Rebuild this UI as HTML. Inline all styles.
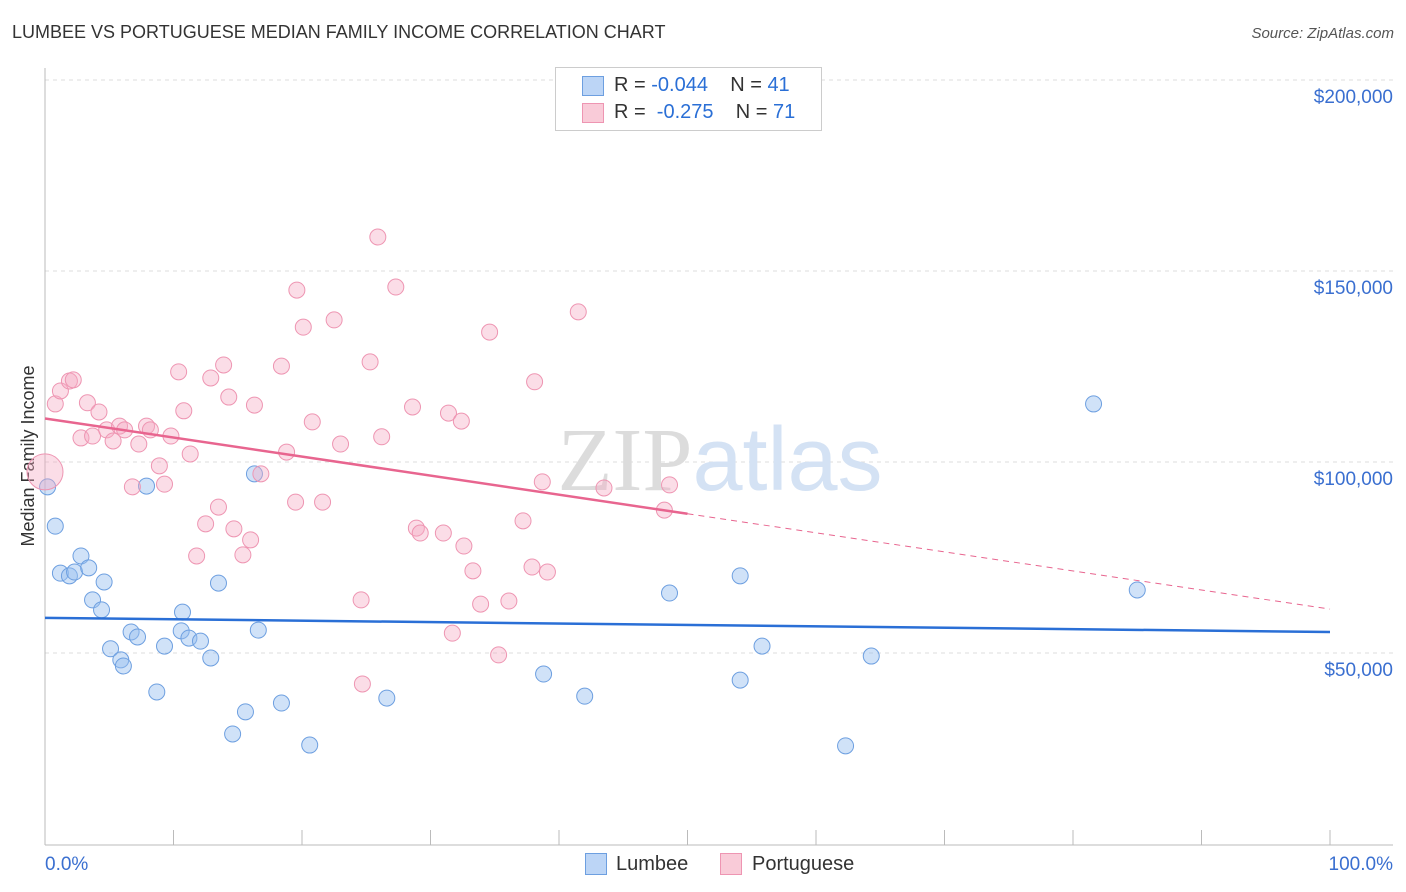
<!DOCTYPE html>
<html><head><meta charset="utf-8"><style>
body{margin:0;background:#fff;font-family:"Liberation Sans",sans-serif;}
#w{position:relative;width:1406px;height:892px;overflow:hidden}
.t{position:absolute;white-space:nowrap}
</style></head><body><div id="w">
<div class="t" style="left:12px;top:22px;font-size:18px;color:#333">LUMBEE VS PORTUGUESE MEDIAN FAMILY INCOME CORRELATION CHART</div>
<div class="t" style="right:12px;top:25px;font-size:15px;color:#555;font-style:italic">Source: ZipAtlas.com</div>
<svg id="s" width="1406" height="892" style="position:absolute;left:0;top:0"></svg>
</div>
<script>
const blueX=[0.2,0.8,1.2,1.9,2.3,2.8,3.4,3.7,4.4,4.6,5.1,5.9,6.1,6.7,7.2,7.9,8.7,9.3,10.6,10.7,11.2,12.1,12.9,13.5,14.6,15.6,16.3,16.6,18.4,20.6,26.6,38.8,42.0,48.6,54.1,54.1,55.8,62.3,64.3,81.6,85.0];
const blueY=[93.5,83.2,70.9,70.2,71.2,75.4,72.3,63.9,61.3,68.6,51.1,48.2,46.6,55.5,54.2,93.7,39.8,51.8,55.8,60.7,53.9,53.1,48.7,68.3,28.8,34.6,96.9,56.0,36.9,25.9,38.2,44.5,38.7,65.7,70.2,42.9,51.8,25.7,49.2,115.2,66.5];
const pinkX=[0,0.8,1.2,1.9,2.2,2.8,3.3,3.7,4.2,4.8,5.3,5.8,6.2,6.8,7.3,7.9,8.2,8.9,9.3,9.8,10.4,10.8,11.3,11.8,12.5,12.9,13.5,13.9,14.3,14.7,15.4,16.0,16.3,16.8,18.4,18.8,19.5,19.6,20.1,20.8,21.6,22.5,23.0,24.6,24.7,25.3,25.9,26.2,27.3,28.6,28.9,29.2,31.0,31.4,32.4,32.6,33.3,33.9,34.6,35.3,36.1,37.2,37.9,38.1,38.7,39.1,41.5,43.5,48.6,48.2,31.7];
const pinkY=[97.4,115.2,118.6,121.2,121.5,106.3,115.5,106.8,113.1,108.4,105.5,109.4,108.4,93.5,104.7,109.4,108.4,99.0,94.2,106.8,123.6,113.4,102.1,75.4,83.8,122.0,88.2,125.4,117.0,82.5,75.7,79.6,114.9,96.9,125.1,102.6,89.5,145.0,135.3,110.5,89.5,137.2,104.7,63.9,41.9,126.2,158.9,106.6,145.8,114.4,82.7,81.4,81.4,112.8,110.7,78.0,71.5,62.8,134.0,49.5,63.6,84.6,72.5,121.0,94.8,71.2,139.3,93.2,94.0,87.4,55.2];
const yTicks=[50,100,150,200];
const yTickLabels=["$50,000","$100,000","$150,000","$200,000"];
const blueTrend=[59.2,55.5];
const pinkTrend=[111.4,61.5];
const X=v=>45+v*12.85, Y=v=>844-v*3.82;
const s=document.getElementById('s');
function el(t,a,n,p){const e=document.createElementNS('http://www.w3.org/2000/svg',t);for(const k in a)e.setAttribute(k,a[k]);
(p||s).appendChild(e);return e;}
yTicks.forEach((v,i)=>{el('line',{x1:45,x2:1393,y1:Y(v),y2:Y(v),stroke:'#ddd','stroke-dasharray':'4,4'},'gridline');
const t=el('text',{x:1393,y:Y(v)+23,'text-anchor':'end','font-size':19,fill:'#3a6fd0','font-family':'Liberation Sans'},'y-tick-label');t.textContent=yTickLabels[i];});
el('line',{x1:45,x2:45,y1:68,y2:845,stroke:'#bbb'},'y-axis');
el('line',{x1:45,x2:1393,y1:845,y2:845,stroke:'#bbb'},'x-axis');
for(let i=0;i<=10;i++)el('line',{x1:X(i*10),x2:X(i*10),y1:830,y2:845,stroke:'#bbb'},'x-tick');
const tx=el('text',{x:45,y:870,'font-size':19,fill:'#3a6fd0','font-family':'Liberation Sans'},'x-label-min');tx.textContent='0.0%';
const tx2=el('text',{x:1393,y:870,'text-anchor':'end','font-size':19,fill:'#3a6fd0','font-family':'Liberation Sans'},'x-label-max');tx2.textContent='100.0%';
const yt=el('text',{x:34,y:456,transform:'rotate(-90 34 456)','text-anchor':'middle','font-size':18,fill:'#333','font-family':'Liberation Sans'},'y-axis-title');yt.textContent='Median Family Income';
const wm=el('text',{x:720,y:490,'text-anchor':'middle','font-size':90,fill:'#e4e9f2','font-family':'Liberation Serif'},'watermark');wm.innerHTML='<tspan fill="#dcdcdc">ZIP</tspan><tspan font-family="Liberation Sans" fill="#d4e2f4">atlas</tspan>';
blueX.forEach((x,i)=>el('circle',{cx:X(x),cy:Y(blueY[i]),r:8,fill:'rgba(150,190,240,0.45)',stroke:'#6d9fe0','stroke-width':1},'lumbee-point'));
pinkX.forEach((x,i)=>el('circle',{cx:X(x),cy:Y(pinkY[i]),r:i==0?18:8,fill:'rgba(245,170,195,0.4)',stroke:'#ee95b2','stroke-width':1},'portuguese-point'));
el('line',{x1:X(0),y1:Y(blueTrend[0]),x2:X(100),y2:Y(blueTrend[1]),stroke:'#2a6fd6','stroke-width':2.5},'lumbee-trend');
const pm=pinkTrend[0]+(pinkTrend[1]-pinkTrend[0])*0.5;
el('line',{x1:X(0),y1:Y(pinkTrend[0]),x2:X(50),y2:Y(pm),stroke:'#e8658f','stroke-width':2.5},'portuguese-trend');
el('line',{x1:X(50),y1:Y(pm),x2:X(100),y2:Y(pinkTrend[1]),stroke:'#e8658f','stroke-width':1,'stroke-dasharray':'6,5'},'portuguese-trend-extension');
</script>
<div class="t" style="left:555px;top:67px;width:265px;height:62px;border:1px solid #ccc;background:#fff">
<div class="t" style="left:26px;top:8px;width:20px;height:18px;background:#bcd5f6;border:1px solid #6d9fe0"></div>
<div class="t" style="left:58px;top:6px;font-size:20px;color:#333">R = <span style="color:#2a6fd6">-0.044</span>&nbsp;&nbsp;&nbsp; N = <span style="color:#2a6fd6">41</span></div>
<div class="t" style="left:26px;top:35px;width:20px;height:18px;background:#f9cbd8;border:1px solid #ee95b2"></div>
<div class="t" style="left:58px;top:33px;font-size:20px;color:#333">R = &nbsp;<span style="color:#2a6fd6">-0.275</span>&nbsp;&nbsp;&nbsp; N = <span style="color:#2a6fd6">71</span></div>
</div>
<div class="t" style="left:585px;top:853px;width:20px;height:20px;background:#bcd5f6;border:1px solid #6d9fe0"></div>
<div class="t" style="left:616px;top:853px;font-size:20px;color:#333">Lumbee</div>
<div class="t" style="left:720px;top:853px;width:20px;height:20px;background:#f9cbd8;border:1px solid #ee95b2"></div>
<div class="t" style="left:752px;top:853px;font-size:20px;color:#333">Portuguese</div>
</body></html>
